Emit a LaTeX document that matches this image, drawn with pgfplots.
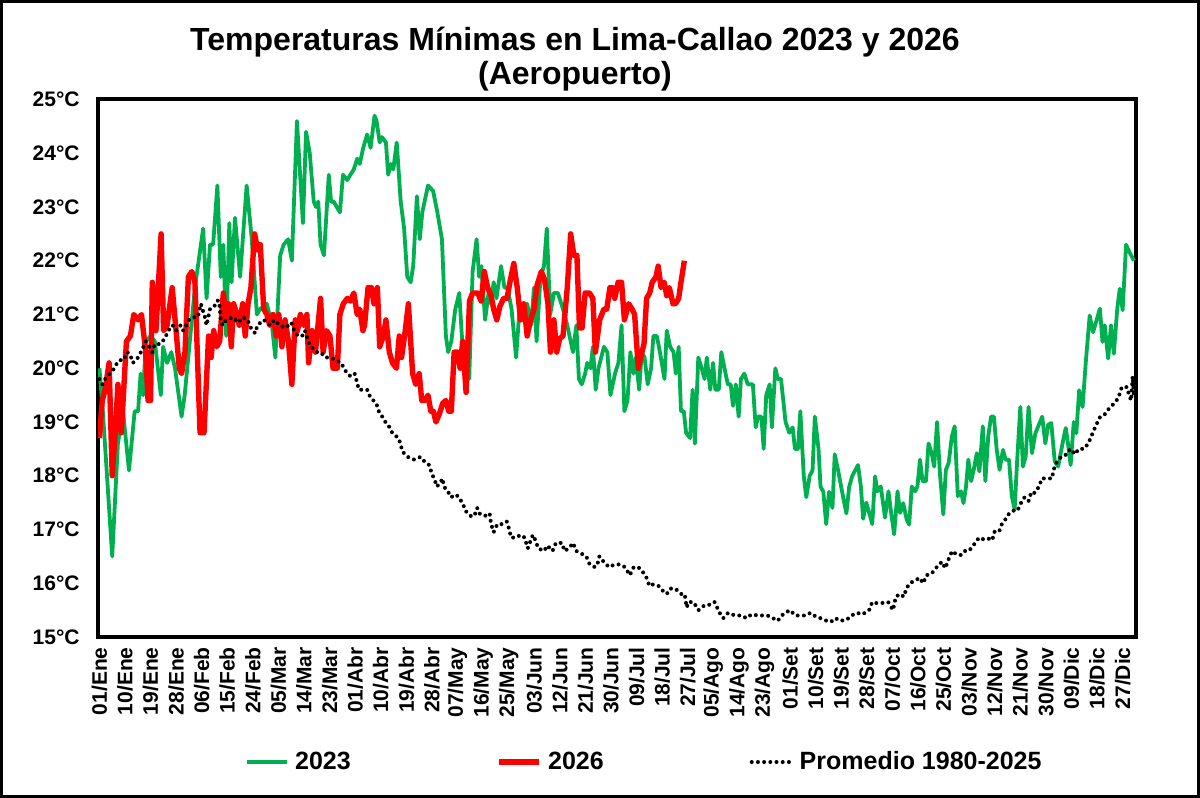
\documentclass[border=0pt]{standalone}
\usepackage{pgfplots}
\pgfplotsset{compat=1.18}
\usepackage{fontspec}
\setmainfont{Liberation Sans}
\definecolor{g23}{RGB}{0,176,80}
\definecolor{r26}{RGB}{255,0,0}
\begin{document}
\begin{tikzpicture}
\useasboundingbox (0,0) rectangle (600pt,399pt);
\draw[line width=1.5pt] (0.75pt,0.75pt) rectangle (599.25pt,398.25pt);
\node[font=\fontsize{16}{19}\selectfont\bfseries, anchor=base, inner sep=0pt] at (287.5pt,373.5pt) {Temperaturas Mínimas en Lima-Callao 2023 y 2026};
\node[font=\fontsize{16}{19}\selectfont\bfseries, anchor=base, inner sep=0pt] at (287.5pt,356.5pt) {(Aeropuerto)};
\begin{axis}[
 at={(49pt,80.5pt)}, anchor=south west,
 width=519pt, height=268.75pt, scale only axis,
 xmin=0.5, xmax=365.7, ymin=15, ymax=25,
 xtick={1,10,...,361},
 xticklabels={01/Ene,10/Ene,19/Ene,28/Ene,06/Feb,15/Feb,24/Feb,05/Mar,14/Mar,23/Mar,01/Abr,10/Abr,19/Abr,28/Abr,07/May,16/May,25/May,03/Jun,12/Jun,21/Jun,30/Jun,09/Jul,18/Jul,27/Jul,05/Ago,14/Ago,23/Ago,01/Set,10/Set,19/Set,28/Set,07/Oct,16/Oct,25/Oct,03/Nov,12/Nov,21/Nov,30/Nov,09/Dic,18/Dic,27/Dic},
 ytick={15,16,...,25},
 yticklabels={15°C,16°C,17°C,18°C,19°C,20°C,21°C,22°C,23°C,24°C,25°C},
 major tick length=0pt,
 axis line style={line width=2pt},
 tick label style={font=\fontsize{10.5}{12}\selectfont\bfseries},
 xticklabel style={rotate=90, anchor=east, inner sep=0pt},
 xticklabel shift=5pt,
 yticklabel style={anchor=east, inner sep=0pt},
 yticklabel shift=9pt,
 legend style={draw=none, fill=none, inner sep=0pt, outer sep=0pt,
   at={(axis description cs:0.1419,-0.2326)}, anchor=west,
   font=\fontsize{12.5}{14}\selectfont\bfseries,
   nodes={inner sep=0pt},
   /tikz/every odd column/.append style={column sep=3pt},
   /tikz/every even column/.append style={column sep=73pt}},
 legend columns=3,
 legend cell align=left,
 legend image code/.code={\draw[#1] (0pt,0pt) -- (20pt,0pt);},
]
\addplot[color=g23, line width=1.9pt, line join=round] coordinates {
(1,20.0)(2.2,19.2)(5.5,16.5)(7.5,18.6)(9.3,19.2)(11.4,18.1)(13.4,19.2)(14.6,19.2)(15.5,19.9)(16.4,19.5)(17.3,20.5)(19,20.6)(20.5,20.5)(22.6,19.5)(23.4,20.4)(24.8,20.1)(26.3,20.3)(27.6,20.0)(29.9,19.1)(31,19.5)(32.8,20.5)(34.6,21.5)(37.5,22.6)(38.7,21.3)(39.9,22.3)(41,22.3)(42.5,23.4)(43.7,21.7)(44.6,22.3)(45.6,20.6)(46.7,22.7)(47.5,21.6)(48.7,22.8)(50.5,21.7)(52.8,23.4)(54.6,22.4)(56.4,21.0)(57.5,21.1)(59.9,21.2)(61.7,20.8)(62.9,20.2)(64.6,22.1)(65.8,22.3)(67.4,22.4)(68.7,22.0)(70.5,24.6)(72.6,22.7)(73.7,24.4)(75,24.0)(76.4,23.1)(77.2,23.0)(78,23.1)(78.8,22.3)(80,22.1)(81.7,23.6)(82.5,23.1)(83.4,23.1)(85.6,22.9)(86.7,23.6)(88.2,23.5)(89.3,23.6)(90.5,23.7)(91.7,23.9)(92.6,23.8)(93.8,24.1)(95.2,24.35)(96.4,24.1)(97.8,24.7)(98.5,24.6)(99.6,24.2)(100.4,24.3)(101.8,24.2)(102.6,23.6)(103.5,23.8)(104.4,23.7)(105.6,24.2)(107,23.1)(108.2,22.6)(109.3,21.7)(110.5,21.6)(111.4,21.9)(112.7,23.2)(113.7,22.4)(114.6,22.9)(116.6,23.4)(118.4,23.3)(119.9,22.9)(121.5,22.4)(122.9,20.6)(123.7,20.3)(124.8,20.5)(126.2,21.1)(127.6,21.4)(128.4,20.7)(129.6,19.8)(131.1,19.8)(132.3,21.8)(133.7,22.4)(134.6,21.7)(135.4,21.9)(136.7,20.9)(137.9,21.4)(138.8,21.2)(139.7,21.6)(140.7,21.3)(142.3,21.9)(143.5,21.5)(144.6,21.5)(146,21.1)(147.6,20.2)(148.8,21.1)(150.2,21.0)(151.5,21.2)(152.9,20.8)(153.9,21.5)(154.8,20.5)(156.2,21.7)(157.4,21.9)(158.4,22.6)(159.6,21.0)(160.9,21.4)(162.3,21.4)(164.1,21.1)(165.6,20.8)(167.6,20.3)(168.8,20.8)(169.7,19.8)(170.7,19.7)(171.9,19.9)(172.6,20.1)(173.8,20.0)(174.6,20.4)(175.6,19.6)(176.6,20.0)(178.5,20.4)(179.7,20.3)(180.8,19.5)(182.4,19.9)(183.6,20.1)(184.7,20.8)(185.7,19.2)(186.8,19.4)(187.8,20.3)(188.9,19.9)(189.7,20.2)(190.9,19.6)(191.8,20.3)(192.8,20.2)(193.9,19.7)(195.1,20.0)(195.9,20.6)(197.1,20.6)(198.2,20.3)(199.8,19.8)(200.6,20.7)(201.8,20.4)(203,20.3)(203.8,19.9)(204.8,20.4)(205.6,19.2)(206.6,19.2)(207.4,18.8)(208.8,18.7)(209.7,19.6)(210.5,18.6)(211.7,20.2)(212.9,20.0)(213.9,19.8)(214.7,20.2)(215.9,19.6)(216.9,20.1)(217.7,19.6)(218.9,19.6)(219.8,20.3)(221.3,19.9)(222.1,19.7)(223.1,19.7)(223.9,19.3)(224.9,19.7)(225.9,19.1)(226.7,19.8)(227.9,19.9)(229.1,19.7)(230.9,19.7)(231.9,18.9)(232.7,19.1)(233.9,19.1)(234.7,18.5)(235.6,19.5)(236.8,19.7)(237.6,18.9)(238.8,20.0)(239.7,19.8)(240.8,19.8)(242.4,19.0)(243.7,18.8)(244.9,18.9)(245.7,18.5)(246.8,18.5)(247.6,19.2)(248.8,18.0)(249.7,17.6)(250.9,18.0)(251.9,18.1)(252.7,19.1)(254,18.5)(254.7,17.8)(255.7,17.7)(256.7,17.1)(257.7,17.7)(258.9,17.4)(259.7,18.4)(260.9,18.1)(262.3,17.7)(263.8,17.3)(264.8,17.8)(265.9,18.0)(267.9,18.2)(268.9,17.8)(269.7,17.2)(270.8,17.5)(272.4,17.2)(272.9,17.1)
(273.9,17.99)(274.7,17.71)(275.9,17.80)(277.4,17.22)(278.6,17.71)(279.4,17.37)(280.6,16.91)(281.8,17.71)(282.7,17.31)(283.8,17.49)(285.0,17.19)(285.9,17.09)(286.8,17.80)(288,17.71)(288.8,17.80)(289.7,18.30)(290.6,17.90)(291.8,17.90)(292.7,18.60)(293.8,18.42)(294.7,18.17)(295.7,19.00)(296.7,18.05)(297.9,17.28)(298.8,18.11)(299.8,18.24)(300.9,18.73)(301.9,18.92)(303,17.62)(304.1,17.71)(305,17.49)(305.9,17.80)(306.7,18.30)(307.7,17.90)(308.6,18.11)(309.7,18.42)(310.6,18.08)(311.8,18.92)(312.7,17.90)(313.7,18.73)(314.7,19.10)(315.7,19.10)(316.7,18.48)(317.7,18.11)(318.9,18.48)(319.8,18.30)(321,18.30)(322,17.62)(323,17.37)(323.9,18.30)(325,19.28)(325.9,18.17)(326.9,18.36)(327.9,19.28)(329.1,18.42)(330.3,18.79)(331.3,18.92)(332.7,19.10)(333.8,18.60)(334.8,18.95)(335.9,18.98)(337.1,18.27)(338.3,18.17)(339.2,18.42)(340.1,18.67)(341,18.89)(341.8,18.58)(342.7,18.20)(343.8,19.00)(344.7,18.79)(345.7,19.59)(346.9,19.28)(348,20.09)(349.4,20.98)(350.6,20.67)(351.8,20.89)(353,21.11)(353.9,20.49)(354.7,20.80)(355.9,20.18)(356.9,20.80)(357.9,20.27)(359.1,21.11)(360,21.48)(361,21.08)(362.2,22.30)(363.5,22.15)(365,22.0)
};
\addlegendentry{2023}
\addplot[color=r26, line width=2.7pt, line join=round] coordinates {
(1,18.7)(2,19.4)(3,19.6)(4.4,20.1)(5.5,18.0)(6.7,18.9)(7.5,19.7)(8.7,18.8)(10.5,20.5)(11.9,20.6)(13.1,21.0)(14.6,20.9)(15.8,21.0)(17.3,20.3)(18.1,19.4)(19.0,19.4)(19.6,21.6)(20.9,20.7)(22.7,22.5)(23.6,20.7)(24.8,20.8)(25.7,21.15)(26.6,21.5)(27.8,20.8)(29.1,20.0)(29.9,19.9)(31.1,20.3)(32.3,21.7)(33.5,21.8)(34.6,21.6)(36.4,18.8)(37.8,18.8)(39.4,20.6)(40.3,20.2)(41.2,20.7)(42.3,20.4)(43.3,20.5)(44.6,21.4)(45.6,20.9)(46.4,21.2)(47.4,20.4)(48.2,21.2)(49.4,21.0)(50.2,20.8)(51.4,21.2)(52.3,20.6)(53.3,21.2)(54.3,21.5)(55.6,22.5)(56.7,22.2)(57.6,22.3)(58.8,21.1)(59.9,21.0)(60.9,20.8)(62.1,21.0)(63.2,20.6)(64.1,21.0)(65.2,20.4)(66.3,20.9)(67.5,20.5)(68.7,19.7)(69.9,20.9)(70.7,20.7)(71.7,21.0)(72.8,20.8)(74.0,21.0)(74.6,20.1)(75.8,20.7)(77.0,20.3)(78.8,21.3)(79.7,20.3)(80.9,20.7)(82.1,20.6)(83.2,20.0)(84.7,20.0)(85.6,21.0)(86.8,21.2)(88.2,21.3)(89.3,21.25)(90.5,21.4)(91.7,21.0)(92.6,21.1)(93.7,20.7)(94.3,20.8)(95.5,21.5)(96.7,21.5)(97.6,21.2)(98.8,21.5)(99.6,20.4)(100.9,20.6)(101.8,20.9)(103.0,20.3)(104.1,20.1)(105.5,20.0)(106.5,20.6)(107.3,20.2)(108.6,20.7)(109.7,21.2)(111.2,19.9)(112.3,19.7)(113.5,19.9)(114.4,19.4)(115.6,19.4)(116.6,19.5)(117.6,19.2)(118.5,19.2)(119.4,19.0)(120.6,19.15)(121.8,19.35)(122.9,19.4)(123.9,19.2)(124.8,19.2)(125.8,20.3)(127.0,20.3)(127.9,20.0)(128.8,20.5)(130.0,19.55)(131.2,21.25)(132.3,21.4)(134.1,21.4)(135.3,21.25)(136.4,21.8)(137.6,21.5)(138.8,21.35)(139.7,21.1)(140.8,20.9)(141.9,21.15)(143.2,21.3)(144.4,21.3)(145.6,21.65)(146.8,21.95)(148.0,21.5)(149.2,20.9)(150.3,21.2)(151.5,20.6)(152.7,20.9)(153.9,21.1)(155.0,21.55)(156.5,21.8)(157.6,21.65)(158.8,21.2)(159.7,20.3)(160.9,20.9)(161.9,20.3)(162.9,20.55)(164.1,20.6)(165.6,21.5)(166.8,22.5)(167.9,22.1)(169.0,22.1)(169.9,20.75)(170.8,20.75)(171.9,21.4)(173.4,21.4)(174.6,21.3)(175.5,20.3)(177.0,20.9)(178.5,21.1)(179.5,21.1)(180.6,21.5)(181.5,21.5)(182.3,21.3)(183.5,21.6)(184.7,21.6)(185.7,20.9)(187.2,21.2)(188.4,21.1)(189.3,21.0)(190.6,20.0)(191.4,20.2)(192.6,20.45)(193.5,21.3)(194.6,21.4)(195.5,21.6)(196.8,21.7)(197.6,21.9)(198.6,21.5)(199.7,21.6)(200.6,21.35)(201.5,21.5)(202.8,21.2)(203.7,21.2)(204.8,21.3)(205.6,21.6)(206.8,22.0)
};
\addlegendentry{2026}
\addplot[color=black, line width=2pt, line cap=round, dash pattern=on 0pt off 3.1pt] coordinates {
(1,19.8)(2,19.7)(3,19.8)(4.6,19.9)(6.3,20.0)(7.2,20.1)(8.1,20.15)(9.5,20.15)(10.8,20.3)(11.8,20.25)(12.8,20.1)(14.6,20.2)(16.1,20.35)(17.3,20.5)(18.5,20.4)(19.6,20.3)(20.5,20.45)(22.3,20.45)(24,20.55)(25.2,20.7)(26.8,20.8)(27.9,20.7)(29.6,20.8)(30.5,20.7)(31.5,20.8)(32.5,20.9)(33.9,20.95)(35.6,20.95)(36.7,21.2)(38.1,20.95)(38.7,20.8)(39.9,21.1)(41.4,21.15)(42.5,21.26)(43.1,21.25)(43.7,20.9)(44.3,20.8)(45.6,20.9)(47.9,20.95)(49.9,20.85)(51.4,20.95)(53.1,20.9)(54.3,20.75)(55.8,20.65)(56.6,20.8)(58.8,20.9)(60,20.85)(61.1,20.8)(62.6,20.9)(64.4,20.8)(66.5,20.75)(68.5,20.85)(69.5,20.7)(70.9,20.6)(72.3,20.6)(73.3,20.7)(74.8,20.45)(76.3,20.35)(77.4,20.3)(78.8,20.3)(80.5,20.2)(82.3,20.2)(84.3,20.15)(86,20.1)(87.6,19.95)(89.3,19.85)(90.8,19.9)(92.3,19.6)(93.5,19.6)(95.2,19.6)(96.4,19.45)(98.4,19.35)(99.3,19.2)(100.5,19.1)(101.6,19.0)(103.1,18.9)(104,18.8)(106.2,18.7)(106.9,18.6)(107.6,18.45)(109.5,18.35)(111.5,18.3)(114,18.35)(115.6,18.25)(117,18.2)(117.9,18.05)(119.1,17.9)(119.6,17.8)(120.8,17.85)(121.7,17.95)(122.2,17.8)(123.7,17.7)(124.7,17.6)(126.4,17.65)(127.5,17.6)(129.1,17.45)(129.7,17.35)(131.7,17.25)(132.9,17.25)(133.9,17.4)(134.6,17.3)(136.5,17.25)(138.3,17.3)(138.8,17.1)(139.7,16.95)(141,17.1)(142.7,17.1)(144.3,17.15)(145.2,17.0)(145.8,16.85)(147.7,16.85)(149.1,16.9)(150.6,16.85)(151.7,16.65)(153.5,16.9)(154.4,16.8)(155.4,16.65)(157.4,16.6)(158.6,16.7)(160.4,16.6)(161.6,16.75)(163.8,16.75)(164.6,16.6)(166.2,16.65)(167.6,16.75)(168.8,16.6)(170.6,16.55)(172.3,16.5)(173.5,16.35)(175.3,16.3)(176.2,16.35)(176.9,16.5)(178.4,16.4)(180.3,16.3)(182.3,16.35)(184.1,16.35)(185.9,16.3)(187.6,16.15)(189,16.3)(190.5,16.3)(191.7,16.25)(193.5,16.1)(194.5,15.95)(195.9,15.98)(197.7,15.95)(199.4,15.85)(200.6,15.8)(201.8,15.9)(203.6,15.9)(205.7,15.8)(206.9,15.8)(207.6,15.55)(208.3,15.65)(210,15.65)(211.8,15.5)(214.1,15.6)(216,15.6)(217.4,15.65)(219.2,15.45)(220.5,15.35)(222.2,15.45)(224.6,15.4)(227,15.4)(228.6,15.35)(230.4,15.42)(232.8,15.4)(233.9,15.4)(236,15.4)(238,15.35)(239.6,15.3)(241.5,15.42)(243.9,15.5)(245.9,15.4)(247.6,15.4)(249.4,15.4)(251.2,15.45)(253,15.38)(254.7,15.35)(256.9,15.3)(258.3,15.28)(260,15.35)(261.5,15.3)(263.9,15.32)(265.6,15.4)(267.6,15.45)(269.4,15.42)(271.8,15.5)(272.9,15.65)(274.5,15.63)(276.1,15.63)(278.5,15.65)(280.2,15.5)(281.2,15.75)(282.7,15.8)(284,15.75)(284.9,15.9)(286.1,16.0)(287.9,16.05)(289.6,16.1)(290.8,16.0)(292,16.15)(293.8,16.18)(295.6,16.3)(297.4,16.4)(298.6,16.28)(299.8,16.45)(301,16.6)(302.2,16.55)(303.9,16.52)(305.3,16.6)(306.9,16.6)(308.4,16.7)(310.5,16.85)(311.9,16.82)(313.4,16.84)(315.1,16.8)(316,16.97)(317.6,16.97)(318.5,17.1)(319.9,17.2)(321.1,17.3)(322.5,17.35)(324,17.35)(325.3,17.5)(326.5,17.6)(327.9,17.53)(328.9,17.7)(330,17.68)(331.6,17.8)(332.6,17.95)(334.6,17.95)(336.2,17.95)(336.6,18.1)(337.8,18.25)(339.3,18.35)(341.4,18.4)(342.6,18.5)(344.2,18.4)(345.6,18.5)(347.4,18.5)(348.9,18.6)(350.1,18.75)(351.3,18.9)(353.1,19.1)(354.9,19.15)(356.2,19.25)(358.1,19.35)(359.5,19.45)(360.7,19.65)(362.5,19.65)(363.3,19.5)(364,19.4)(364.5,19.85)(365,19.5)
};
\addlegendentry{Promedio 1980-2025}
\end{axis}
\end{tikzpicture}
\end{document}
